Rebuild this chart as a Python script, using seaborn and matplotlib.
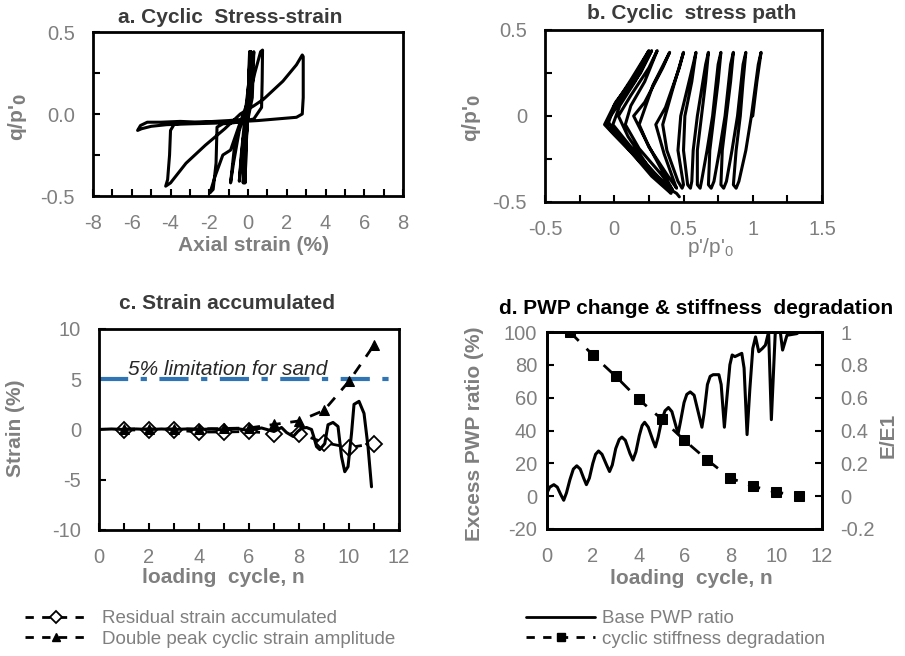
import numpy as np
import pandas as pd
import seaborn as sns
import matplotlib.pyplot as plt
from matplotlib.lines import Line2D
from matplotlib.ticker import MultipleLocator, FuncFormatter, FormatStrFormatter

sns.set_theme(style='white')
plt.rcParams['font.family'] = ['Liberation Sans', 'DejaVu Sans']
plt.rcParams['axes.unicode_minus'] = False
plt.rcParams['mathtext.default'] = 'regular'

GREY = '#7f7f7f'
DARK = '#3b3b3b'
BLUE = '#2f75b5'

# a. cyclic stress-strain (axial strain %, q/p'0)
a_strain = [0.00, 0.05, 0.08, 0.02, -0.10, -0.15, -0.08, 0.05, 0.10, 0.03,
            -0.12, -0.20, -0.10, 0.05, 0.12, 0.05, -0.15, -0.25, -0.15, 0.05,
            0.12, 0.04, -0.25, -0.45, -0.35, -0.10, 0.10, 0.15, 0.10, -0.05,
            -0.40, -0.70, -0.90, -0.75, -0.45, 0.00, 0.35, 0.65, 0.75, 0.73,
            0.70, 0.30, -0.50, -1.30, -1.60, -1.65, -1.80, -1.96, -1.70, -1.30,
            -0.90, -0.40, 0.00, 0.20, 0.30, 0.22, 0.00, -1.00, -2.50, -3.80,
            -4.00, -4.05, -4.15, -4.25, -4.00, -3.20, -2.20, -1.20, -0.40, 0.30,
            0.80, 1.80, 2.50, 2.80, 2.85, 2.85, 2.80, 2.50, 1.50, 0.50,
            -1.00, -2.50, -3.50, -4.50, -5.20, -5.55, -5.70, -5.50, -5.00, -4.20,
            -3.00, -1.50, -0.30]
a_q = [0.00, 0.20, 0.38, 0.05, -0.20, -0.42, -0.10, 0.20, 0.38, 0.05,
       -0.20, -0.42, -0.10, 0.20, 0.38, 0.05, -0.20, -0.42, -0.10, 0.22,
       0.38, 0.02, -0.15, -0.41, -0.25, 0.05, 0.25, 0.38, 0.10, -0.04,
       -0.06, -0.20, -0.42, -0.30, -0.10, 0.07, 0.25, 0.38, 0.39, 0.20,
       0.04, -0.03, -0.05, -0.06, -0.08, -0.30, -0.46, -0.48, -0.38, -0.25,
       -0.22, -0.05, 0.08, 0.25, 0.38, 0.10, -0.03, -0.04, -0.05, -0.06,
       -0.10, -0.25, -0.40, -0.44, -0.42, -0.30, -0.19, -0.09, 0.00, 0.05,
       0.09, 0.20, 0.30, 0.36, 0.35, 0.10, 0.00, -0.02, -0.03, -0.04,
       -0.05, -0.05, -0.045, -0.05, -0.05, -0.07, -0.10, -0.09, -0.075, -0.065,
       -0.06, -0.055, -0.05]

# b. cyclic stress path (p'/p'0, q/p'0)
b_p = [1.00, 1.03, 1.06, 1.04, 0.99, 0.95, 0.90, 0.88, 0.86, 0.88,
       0.91, 0.93, 0.95, 0.93, 0.89, 0.85, 0.81, 0.79, 0.77, 0.78,
       0.81, 0.84, 0.86, 0.84, 0.80, 0.76, 0.72, 0.70, 0.68, 0.69,
       0.72, 0.75, 0.77, 0.75, 0.71, 0.67, 0.63, 0.62, 0.60, 0.60,
       0.63, 0.66, 0.68, 0.66, 0.60, 0.57, 0.56, 0.55, 0.53, 0.50,
       0.51, 0.56, 0.59, 0.57, 0.48, 0.46, 0.50, 0.49, 0.46, 0.38,
       0.35, 0.42, 0.50, 0.47, 0.37, 0.30, 0.36, 0.44, 0.45, 0.38,
       0.25, 0.18, 0.28, 0.40, 0.35, 0.22, 0.14, 0.24, 0.40, 0.42,
       0.34, 0.18, 0.08, 0.12, 0.22, 0.31, 0.25, 0.12, 0.03, 0.10,
       0.25, 0.40, 0.42, 0.29, 0.11, -0.01, 0.04, 0.15, 0.27, 0.19,
       0.04, -0.05, 0.05, 0.22, 0.38, 0.41, 0.27, 0.09, -0.05, 0.00,
       0.12, 0.25, 0.14, 0.01, -0.07, 0.00, 0.18, 0.35, 0.45, 0.47]
b_q = [0.00, 0.20, 0.37, 0.30, 0.00, -0.20, -0.38, -0.42, -0.40, -0.20,
       0.00, 0.20, 0.37, 0.30, 0.00, -0.20, -0.38, -0.42, -0.40, -0.20,
       0.00, 0.20, 0.37, 0.30, 0.00, -0.20, -0.38, -0.42, -0.40, -0.20,
       0.00, 0.20, 0.37, 0.30, 0.00, -0.20, -0.38, -0.42, -0.40, -0.20,
       0.00, 0.20, 0.37, 0.30, 0.00, -0.20, -0.38, -0.42, -0.40, -0.20,
       0.00, 0.20, 0.37, 0.30, 0.00, -0.20, -0.40, -0.42, -0.38, -0.20,
       -0.05, 0.15, 0.37, 0.28, 0.05, -0.05, -0.22, -0.40, -0.42, -0.34,
       -0.18, -0.05, 0.18, 0.37, 0.28, 0.08, 0.00, -0.16, -0.40, -0.43,
       -0.34, -0.19, -0.05, 0.06, 0.20, 0.38, 0.28, 0.12, 0.00, -0.12,
       -0.30, -0.43, -0.44, -0.33, -0.17, -0.05, 0.06, 0.20, 0.38, 0.25,
       0.08, -0.03, -0.13, -0.28, -0.42, -0.45, -0.35, -0.18, -0.06, 0.06,
       0.21, 0.38, 0.22, 0.08, -0.05, -0.11, -0.26, -0.40, -0.45, -0.47]

# c. strain accumulated per loading cycle
cycles = [1, 2, 3, 4, 5, 6, 7, 8, 9, 10, 11]
res_strain = [-0.05, -0.05, -0.05, -0.25, -0.25, -0.2, -0.4, -0.4, -1.3, -1.8, -1.4]
dp_amp = [0.05, 0.05, 0.05, 0.05, 0.1, 0.15, 0.5, 0.85, 1.9, 4.8, 8.4]
hist_n = [0, 0.5, 1, 1.5, 2, 2.5, 3, 3.5, 4, 4.5,
          5, 5.5, 6, 6.5, 7.0, 7.3, 7.5, 7.77, 7.95, 8.1,
          8.3, 8.5, 8.6, 8.7, 8.83, 9.03, 9.16, 9.36, 9.56, 9.7,
          9.83, 9.96, 10.1, 10.2, 10.4, 10.6, 10.76, 10.9]
hist_strain = [0, 0.05, 0, 0.05, 0, 0.05, 0, 0.05, 0, 0.05,
               -0.05, 0.1, -0.1, 0.15, -0.2, 0.2, -0.3, -0.7, -0.2, 0.1,
               0.2, 0.0, -0.8, -1.7, -2.0, -1.4, 0.47, 0.7, 0.3, -2.7,
               -4.2, -3.7, -0.4, 2.5, 2.8, 1.6, -1.7, -5.7]
sand_limit = 5

# d. excess PWP ratio and stiffness degradation
pwp_n = [0.0, 0.12, 0.3, 0.45, 0.6, 0.73, 0.85, 1.0, 1.15, 1.3,
         1.45, 1.6, 1.72, 1.85, 2.0, 2.12, 2.25, 2.4, 2.6, 2.73,
         2.85, 3.0, 3.15, 3.27, 3.42, 3.62, 3.75, 3.88, 4.03, 4.15,
         4.26, 4.42, 4.62, 4.73, 4.85, 5.0, 5.15, 5.3, 5.45, 5.62,
         5.72, 5.82, 5.98, 6.1, 6.25, 6.42, 6.62, 6.76, 6.85, 7.0,
         7.12, 7.25, 7.5, 7.6, 7.74, 7.85, 7.98, 8.08, 8.2, 8.35,
         8.5, 8.6, 8.73, 8.85, 8.98, 9.1, 9.24, 9.4, 9.53, 9.67,
         9.79, 9.96, 10.18, 10.28, 10.47, 10.9, 11.0]
pwp = [2, 5.5, 7, 5.5, 1, -2.5, 2, 10, 16.5, 18.5,
       16.5, 11, 7, 11, 20, 25.5, 27.5, 25.5, 19, 15,
       19, 29, 34.5, 36, 34, 26, 22, 27, 37, 43,
       45, 42, 34, 30, 36, 46, 52, 54, 51.5, 43,
       38, 45, 57, 62, 63.5, 61.5, 50, 42, 50, 68,
       73, 74, 74, 68, 42, 60, 80, 86, 85, 86,
       87, 78, 37.5, 65, 90, 97, 88, 90, 92, 100,
       46.6, 99.5, 100, 89, 98, 99, 100]
stiffness = [1.0, 0.86, 0.73, 0.59, 0.47, 0.34, 0.22, 0.11, 0.06, 0.024, 0.004]

DASH = (0, (4, 3.5))


def style_axes(ax):
    for s in ax.spines.values():
        s.set_color('black')
        s.set_linewidth(2)
    ax.tick_params(which='both', direction='in', color='black', width=1.5,
                   length=5, labelcolor=GREY, labelsize=14.5, pad=13,
                   top=False, right=False, left=True, bottom=True)


fig = plt.figure(figsize=(9.05, 6.56), dpi=100)
ax_a = fig.add_axes([0.1028, 0.7012, 0.3425, 0.2500])
ax_b = fig.add_axes([0.6022, 0.6921, 0.3061, 0.2622])
ax_c = fig.add_axes([0.1094, 0.1921, 0.3315, 0.3064])
ax_d = fig.add_axes([0.6044, 0.1936, 0.3039, 0.3003])

# ---- a
sns.lineplot(x=a_strain, y=a_q, sort=False, estimator=None, ax=ax_a, color='black', lw=2.2)
ax_a.set_xlim(-8, 8)
ax_a.set_ylim(-0.5, 0.5)
ax_a.set_xticks(np.arange(-8, 9, 2))
ax_a.xaxis.set_minor_locator(MultipleLocator(1))
ax_a.set_yticks([-0.5, 0, 0.5])
ax_a.yaxis.set_minor_locator(MultipleLocator(0.25))
ax_a.yaxis.set_major_formatter(FormatStrFormatter('%.1f'))
style_axes(ax_a)
ax_a.set_xlabel('Axial strain (%)', fontsize=15, fontweight='bold', color=GREY, va='center')
ax_a.xaxis.set_label_coords(0.519, -0.30)
ax_a.set_ylabel(r"q/p'$_\mathbf{0}$", fontsize=15, fontweight='bold', color=GREY, va='center')
ax_a.yaxis.set_label_coords(-0.245, 0.48)
ax_a.text(0.442, 1.091, 'a. Cyclic  Stress-strain', transform=ax_a.transAxes, ha='center',
          va='center', fontsize=15, fontweight='bold', color=DARK)

# ---- b
sns.lineplot(x=b_p, y=b_q, sort=False, estimator=None, ax=ax_b, color='black', lw=2.2)
ax_b.set_xlim(-0.5, 1.5)
ax_b.set_ylim(-0.5, 0.5)
ax_b.set_xticks([-0.5, 0, 0.5, 1, 1.5])
ax_b.xaxis.set_minor_locator(MultipleLocator(0.25))
ax_b.set_yticks([-0.5, 0, 0.5])
ax_b.yaxis.set_minor_locator(MultipleLocator(0.25))
fmt_g = FuncFormatter(lambda v, p: '{:g}'.format(round(v, 3)))
ax_b.xaxis.set_major_formatter(fmt_g)
ax_b.yaxis.set_major_formatter(fmt_g)
style_axes(ax_b)
ax_b.set_xlabel(r"p'/p'$_0$", fontsize=15, color=GREY, va='center')
ax_b.xaxis.set_label_coords(0.596, -0.267)
ax_b.set_ylabel(r"q/p'$_\mathbf{0}$", fontsize=15, fontweight='bold', color=GREY, va='center')
ax_b.yaxis.set_label_coords(-0.264, 0.488)
ax_b.text(0.531, 1.093, 'b. Cyclic  stress path', transform=ax_b.transAxes, ha='center',
          va='center', fontsize=15, fontweight='bold', color=DARK)

# ---- c
ax_c.axhline(sand_limit, color=BLUE, lw=3, linestyle=(0, (7, 3, 1.5, 3)), zorder=1)
sns.lineplot(x=cycles, y=res_strain, ax=ax_c, color='black', lw=2, linestyle=DASH,
             marker='D', markersize=8, markerfacecolor='white', markeredgecolor='black',
             markeredgewidth=1.3)
sns.lineplot(x=cycles, y=dp_amp, ax=ax_c, color='black', lw=2, linestyle=DASH,
             marker='^', markersize=7.5, markerfacecolor='black', markeredgecolor='black')
sns.lineplot(x=hist_n, y=hist_strain, sort=False, estimator=None, ax=ax_c, color='black', lw=2.2)
ax_c.text(1.16, 6.0, '5% limitation for sand', fontsize=15, style='italic', color='#262626',
          ha='left', va='center')
ax_c.set_xlim(0, 12)
ax_c.set_ylim(-10, 10)
ax_c.set_xticks(np.arange(0, 13, 2))
ax_c.xaxis.set_minor_locator(MultipleLocator(1))
ax_c.set_yticks([-10, -5, 0, 5, 10])
style_axes(ax_c)
ax_c.set_xlabel('loading  cycle, n', fontsize=15, fontweight='bold', color=GREY, va='center')
ax_c.xaxis.set_label_coords(0.413, -0.234)
ax_c.set_ylabel('Strain (%)', fontsize=15, fontweight='bold', color=GREY, va='center')
ax_c.yaxis.set_label_coords(-0.28, 0.507)
ax_c.text(0.427, 1.129, 'c. Strain accumulated', transform=ax_c.transAxes, ha='center',
          va='center', fontsize=15, fontweight='bold', color=DARK)

# ---- d
sns.lineplot(x=pwp_n, y=pwp, sort=False, estimator=None, ax=ax_d, color='black', lw=2.2)
ax_d.set_xlim(0, 12)
ax_d.set_ylim(-20, 100)
ax_d.set_xticks(np.arange(0, 13, 2))
ax_d.set_yticks(np.arange(-20, 101, 20))
style_axes(ax_d)
ax_d.tick_params(axis='x', length=0)
ax_d.tick_params(axis='y', pad=7)
ax_d2 = ax_d.twinx()
sns.lineplot(x=cycles, y=stiffness, ax=ax_d2, color='black', lw=2, linestyle=(0, (4.5, 4)),
             marker='s', markersize=6.5, markerfacecolor='black', markeredgecolor='black')
ax_d2.set_ylim(-0.2, 1)
ax_d2.set_yticks(np.arange(-0.2, 1.01, 0.2))
ax_d2.yaxis.set_major_formatter(fmt_g)
for s in ax_d2.spines.values():
    s.set_color('black')
    s.set_linewidth(2)
ax_d2.tick_params(axis='y', which='both', direction='in', color='black', width=1.5, length=5,
                  labelcolor=GREY, labelsize=14.5, pad=13, right=True, left=False)
ax_d.set_xlabel('loading  cycle, n', fontsize=15, fontweight='bold', color=GREY, va='center')
ax_d.xaxis.set_label_coords(0.524, -0.249)
ax_d.set_ylabel('Excess PWP ratio (%)', fontsize=15, fontweight='bold', color=GREY, va='center')
ax_d.yaxis.set_label_coords(-0.262, 0.482)
ax_d2.set_ylabel('E/E1', fontsize=15, fontweight='bold', color=GREY, va='center')
ax_d2.yaxis.set_label_coords(1.24, 0.477)
ax_d.text(0.542, 1.117, 'd. PWP change & stiffness  degradation', transform=ax_d.transAxes,
          ha='center', va='center', fontsize=15, fontweight='bold', color='black')

# ---- legends under the panels
LEG_DASH = (0, (3, 3))
left_handles = [
    Line2D([], [], color='black', lw=2, linestyle=LEG_DASH, marker='D', markersize=6,
           markerfacecolor='white', markeredgecolor='black', markeredgewidth=1.3),
    Line2D([], [], color='black', lw=2, linestyle=LEG_DASH, marker='^', markersize=6,
           markerfacecolor='black', markeredgecolor='black'),
]
fig.legend(left_handles, ['Residual strain accumulated', 'Double peak cyclic strain amplitude'],
           loc='center left', bbox_to_anchor=(25 / 905, 1 - 629 / 656), frameon=False,
           handlelength=3.3, handletextpad=0.8, labelspacing=0.2, borderpad=0,
           borderaxespad=0, prop={'size': 13.5}, labelcolor=GREY)

right_handles = [
    Line2D([], [], color='black', lw=2),
    Line2D([], [], color='black', lw=2, linestyle=LEG_DASH, marker='s', markersize=5.5,
           markerfacecolor='black', markeredgecolor='black'),
]
fig.legend(right_handles, ['Base PWP ratio', 'cyclic stiffness degradation'],
           loc='center left', bbox_to_anchor=(526 / 905, 1 - 629 / 656), frameon=False,
           handlelength=3.7, handletextpad=0.35, labelspacing=0.2, borderpad=0,
           borderaxespad=0, prop={'size': 13.5}, labelcolor=GREY)

fig.savefig('out.png', dpi=100, facecolor='white')
